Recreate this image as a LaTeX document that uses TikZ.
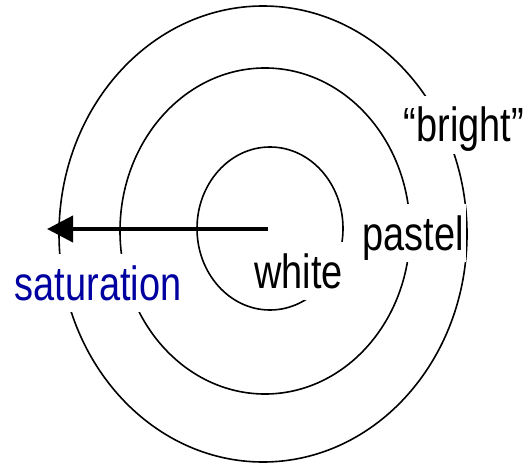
\documentclass[tikz,border=0pt]{standalone}
\usepackage{fontspec}
\newfontfamily\labelfont[FakeStretch=0.79]{Liberation Sans}
\usetikzlibrary{arrows.meta}
\definecolor{satblue}{RGB}{0,0,160}

\begin{document}
\begin{tikzpicture}[
    x=0.5pt, y=-0.5pt,
    ring/.style={draw, line width=0.8pt},
    lbl/.style={fill=white, anchor=base, inner xsep=1pt, inner ysep=1.5pt, text height=21.5pt, text depth=4.5pt, font=\labelfont\fontsize{24}{28}\selectfont},
    arr/.style={-{Triangle[length=13pt, width=13pt]}, line width=2pt}
  ]
    \useasboundingbox (0,0) rectangle (528,464);

    % rings, outside in
    \draw[ring] (263,234) ellipse [x radius=204, y radius=228];
    \draw[ring] (265,231) ellipse [x radius=145, y radius=163];
    \draw[ring] (270,228.5) ellipse [x radius=73, y radius=81.5];

    \coordinate (hub) at (268,229);
    \coordinate (rim) at (47,229);
    \draw[arr] (hub) -- (rim);

    \node[lbl, text=satblue] (saturation) at (98,300) {saturation};
    \node[lbl] (white) at (298.5,288) {white};
    \node[lbl] (pastel) at (413,250) {pastel};
    \node[lbl] (bright) at (464,142) {“bright”};
  \end{tikzpicture}
\end{document}
